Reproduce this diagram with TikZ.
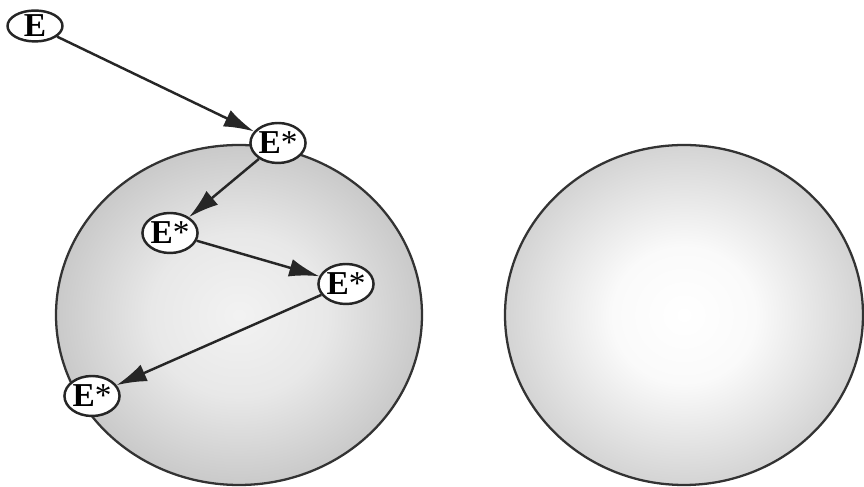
\documentclass[tikz,border=0pt]{standalone}
\usepackage{fontspec}
\setmainfont{Liberation Serif}
\usepackage{tikz}
\usetikzlibrary{arrows.meta,shapes.geometric}
\pgfdeclareradialshading{darkball}{\pgfpoint{0bp}{0bp}}{color(0bp)=(black!5); color(12bp)=(black!9); color(25bp)=(black!21); color(50bp)=(black!21)}
\pgfdeclareradialshading{paleball}{\pgfpoint{0bp}{0bp}}{color(0bp)=(white); color(10bp)=(black!2); color(25bp)=(black!17); color(50bp)=(black!17)}
\tikzset{
  ent/.style={ellipse, draw=black!85, line width=1.4pt, fill=white, inner sep=0pt,
              minimum width=11mm, minimum height=8mm, font=\fontsize{19}{22}\selectfont},
  ground/.style={ent, minimum height=5.8mm},
  hop/.style={-{Latex[length=6mm, width=3.6mm]}, line width=1.4pt, draw=black!85},
  ball/.style={draw=black!80, line width=1.3pt},
}

\begin{document}
\begin{tikzpicture}
    \useasboundingbox (0,0) rectangle (17.28,-9.74);
    % the two spheres
    \shade[ball, shading=darkball] (4.78,-6.30) ellipse (3.66 and 3.40);
    \shade[ball, shading=paleball] (13.68,-6.30) ellipse (3.58 and 3.40);
    % excited states
    \node[ground] (e0) at (0.70,-0.52) {\textbf{E}};
    \node[ent] (e1) at (5.56,-2.86) {\textbf{E}*};
    \node[ent] (e2) at (3.40,-4.66) {\textbf{E}*};
    \node[ent] (e3) at (6.92,-5.68) {\textbf{E}*};
    \node[ent] (e4) at (1.84,-7.92) {\textbf{E}*};
    \draw[hop] (e0) -- (e1);
    \draw[hop] (e1) -- (e2);
    \draw[hop] (e2) -- (e3);
    \draw[hop] (e3) -- (e4);
  \end{tikzpicture}
\end{document}
